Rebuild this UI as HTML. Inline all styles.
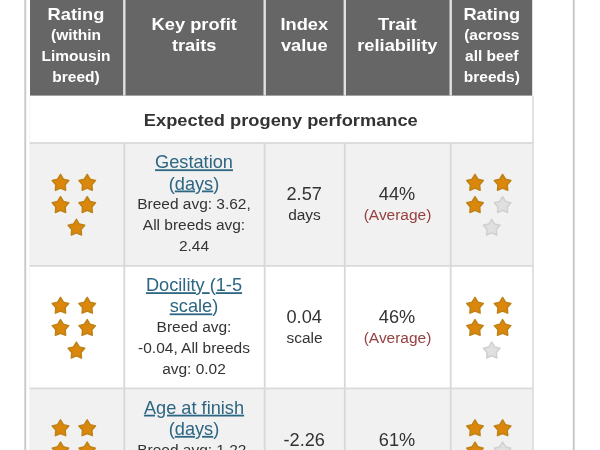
<!DOCTYPE html>
<html lang="en"><head><meta charset="utf-8"><title>Key profit traits</title>
<style>
html,body{margin:0;padding:0;background:#fff}
body{width:600px;height:450px;overflow:hidden;position:relative}
svg{display:block;position:absolute;left:-10px;top:-10px;filter:blur(0.4px)}
text{font-family:"Liberation Sans",Arial,Helvetica,sans-serif;text-anchor:middle;white-space:pre}
polygon{stroke-width:1.5px;stroke-linejoin:round}
.so{fill:#da870b;stroke:#bf8216}
.sg{fill:#e0e0e0;stroke:#d0d0d0}
tspan.u{text-decoration:underline;text-decoration-thickness:1.1px;text-underline-offset:2.7px}
</style></head><body>
<svg width="620" height="470" viewBox="-10 -10 620 470">
<rect x="30.00" y="143.00" width="502.30" height="122.90" fill="#f1f1f1"/>
<rect x="30.00" y="388.40" width="502.30" height="71.60" fill="#f1f1f1"/>
<rect x="30.00" y="-10.00" width="502.20" height="105.60" fill="#666666"/>
<rect x="123.10" y="-10.00" width="2.40" height="105.60" fill="#e1e1e3"/>
<rect x="263.50" y="-10.00" width="2.40" height="105.60" fill="#e1e1e3"/>
<rect x="343.60" y="-10.00" width="2.40" height="105.60" fill="#e1e1e3"/>
<rect x="449.50" y="-10.00" width="2.40" height="105.60" fill="#e1e1e3"/>
<rect x="123.40" y="143.00" width="1.80" height="317.00" fill="#d7d8dc"/>
<rect x="263.80" y="143.00" width="1.80" height="317.00" fill="#d7d8dc"/>
<rect x="343.90" y="143.00" width="1.80" height="317.00" fill="#d7d8dc"/>
<rect x="449.80" y="143.00" width="1.80" height="317.00" fill="#d7d8dc"/>
<rect x="29.50" y="95.60" width="0.70" height="364.40" fill="#ededef"/>
<rect x="532.10" y="95.60" width="1.70" height="364.40" fill="#dcdcde"/>
<rect x="29.60" y="142.15" width="503.40" height="1.70" fill="#d9d9dc"/>
<rect x="29.60" y="265.05" width="503.40" height="1.70" fill="#d9d9dc"/>
<rect x="29.60" y="387.55" width="503.40" height="1.70" fill="#d9d9dc"/>
<rect x="24.30" y="-10.00" width="1.90" height="470.00" fill="#c9c9c9"/>
<rect x="572.80" y="-10.00" width="1.90" height="470.00" fill="#c6c6c6"/>
<text transform="translate(76.00 19.80) scale(1.015 0.96)" font-size="18" font-weight="bold" fill="#ffffff">Rating</text>
<text transform="translate(76.00 40.10) scale(1.015 1.0)" font-size="15.3" font-weight="bold" fill="#ffffff">(within</text>
<text transform="translate(76.00 61.00) scale(1.015 1.0)" font-size="15.3" font-weight="bold" fill="#ffffff">Limousin</text>
<text transform="translate(76.00 82.00) scale(1.015 1.0)" font-size="15.3" font-weight="bold" fill="#ffffff">breed)</text>
<text transform="translate(194.20 30.20) scale(1.015 0.96)" font-size="18" font-weight="bold" fill="#ffffff">Key profit</text>
<text transform="translate(194.20 51.30) scale(1.015 0.96)" font-size="18" font-weight="bold" fill="#ffffff">traits</text>
<text transform="translate(304.30 30.20) scale(1.015 0.96)" font-size="18" font-weight="bold" fill="#ffffff">Index</text>
<text transform="translate(304.30 51.30) scale(1.015 0.96)" font-size="18" font-weight="bold" fill="#ffffff">value</text>
<text transform="translate(397.30 30.20) scale(1.015 0.96)" font-size="18" font-weight="bold" fill="#ffffff">Trait</text>
<text transform="translate(397.30 51.00) scale(1.015 0.96)" font-size="18" font-weight="bold" fill="#ffffff">reliability</text>
<text transform="translate(491.80 19.80) scale(1.015 0.96)" font-size="18" font-weight="bold" fill="#ffffff">Rating</text>
<text transform="translate(491.80 40.20) scale(1.015 1.0)" font-size="15.3" font-weight="bold" fill="#ffffff">(across</text>
<text transform="translate(491.80 61.10) scale(1.015 1.0)" font-size="15.3" font-weight="bold" fill="#ffffff">all beef</text>
<text transform="translate(491.80 82.00) scale(1.015 1.0)" font-size="15.3" font-weight="bold" fill="#ffffff">breeds)</text>
<text transform="translate(280.80 125.70) scale(1.015 0.96)" font-size="18" font-weight="bold" fill="#333">Expected progeny performance</text>
<text transform="translate(194.00 168.30) scale(1.012 1.0)" font-size="18" fill="#2d6682"><tspan class="u">Gestation</tspan></text>
<text transform="translate(194.00 189.50) scale(1.012 1.0)" font-size="18" fill="#2d6682">(<tspan class="u">days</tspan>)</text>
<text transform="translate(194.00 209.40) scale(1.012 1.0)" font-size="15.3" fill="#333">Breed avg: 3.62,</text>
<text transform="translate(194.00 230.30) scale(1.012 1.0)" font-size="15.3" fill="#333">All breeds avg:</text>
<text transform="translate(194.00 251.20) scale(1.012 1.0)" font-size="15.3" fill="#333">2.44</text>
<text transform="translate(304.20 200.00) scale(1.012 1.0)" font-size="18" fill="#333">2.57</text>
<text transform="translate(304.50 219.70) scale(1.012 1.0)" font-size="15.3" fill="#333">days</text>
<text transform="translate(397.00 200.00) scale(1.012 1.0)" font-size="18" fill="#333">44%</text>
<text transform="translate(397.50 219.60) scale(1.012 1.0)" font-size="15.3" fill="#964040">(Average)</text>
<polygon class="so" transform="translate(60.50 183.20)" points="0.00,-8.70 2.88,-3.96 8.27,-2.69 4.66,1.51 5.11,7.04 0.00,4.90 -5.11,7.04 -4.66,1.51 -8.27,-2.69 -2.88,-3.96"/>
<polygon class="so" transform="translate(87.20 183.20)" points="0.00,-8.70 2.88,-3.96 8.27,-2.69 4.66,1.51 5.11,7.04 0.00,4.90 -5.11,7.04 -4.66,1.51 -8.27,-2.69 -2.88,-3.96"/>
<polygon class="so" transform="translate(60.50 205.40)" points="0.00,-8.70 2.88,-3.96 8.27,-2.69 4.66,1.51 5.11,7.04 0.00,4.90 -5.11,7.04 -4.66,1.51 -8.27,-2.69 -2.88,-3.96"/>
<polygon class="so" transform="translate(87.20 205.40)" points="0.00,-8.70 2.88,-3.96 8.27,-2.69 4.66,1.51 5.11,7.04 0.00,4.90 -5.11,7.04 -4.66,1.51 -8.27,-2.69 -2.88,-3.96"/>
<polygon class="so" transform="translate(76.40 228.00)" points="0.00,-8.70 2.88,-3.96 8.27,-2.69 4.66,1.51 5.11,7.04 0.00,4.90 -5.11,7.04 -4.66,1.51 -8.27,-2.69 -2.88,-3.96"/>
<polygon class="so" transform="translate(475.00 183.20)" points="0.00,-8.70 2.88,-3.96 8.27,-2.69 4.66,1.51 5.11,7.04 0.00,4.90 -5.11,7.04 -4.66,1.51 -8.27,-2.69 -2.88,-3.96"/>
<polygon class="so" transform="translate(502.60 183.20)" points="0.00,-8.70 2.88,-3.96 8.27,-2.69 4.66,1.51 5.11,7.04 0.00,4.90 -5.11,7.04 -4.66,1.51 -8.27,-2.69 -2.88,-3.96"/>
<polygon class="so" transform="translate(475.00 205.40)" points="0.00,-8.70 2.88,-3.96 8.27,-2.69 4.66,1.51 5.11,7.04 0.00,4.90 -5.11,7.04 -4.66,1.51 -8.27,-2.69 -2.88,-3.96"/>
<polygon class="sg" transform="translate(502.60 205.40)" points="0.00,-8.70 2.88,-3.96 8.27,-2.69 4.66,1.51 5.11,7.04 0.00,4.90 -5.11,7.04 -4.66,1.51 -8.27,-2.69 -2.88,-3.96"/>
<polygon class="sg" transform="translate(491.70 228.00)" points="0.00,-8.70 2.88,-3.96 8.27,-2.69 4.66,1.51 5.11,7.04 0.00,4.90 -5.11,7.04 -4.66,1.51 -8.27,-2.69 -2.88,-3.96"/>
<text transform="translate(194.00 291.20) scale(1.012 1.0)" font-size="18" fill="#2d6682"><tspan class="u">Docility </tspan>(<tspan class="u">1-5</tspan></text>
<text transform="translate(194.00 312.40) scale(1.012 1.0)" font-size="18" fill="#2d6682"><tspan class="u">scale</tspan>)</text>
<text transform="translate(194.00 332.30) scale(1.012 1.0)" font-size="15.3" fill="#333">Breed avg:</text>
<text transform="translate(194.00 353.20) scale(1.012 1.0)" font-size="15.3" fill="#333">-0.04, All breeds</text>
<text transform="translate(194.00 374.10) scale(1.012 1.0)" font-size="15.3" fill="#333">avg: 0.02</text>
<text transform="translate(304.20 322.90) scale(1.012 1.0)" font-size="18" fill="#333">0.04</text>
<text transform="translate(304.50 342.60) scale(1.012 1.0)" font-size="15.3" fill="#333">scale</text>
<text transform="translate(397.00 322.90) scale(1.012 1.0)" font-size="18" fill="#333">46%</text>
<text transform="translate(397.50 342.50) scale(1.012 1.0)" font-size="15.3" fill="#964040">(Average)</text>
<polygon class="so" transform="translate(60.50 306.10)" points="0.00,-8.70 2.88,-3.96 8.27,-2.69 4.66,1.51 5.11,7.04 0.00,4.90 -5.11,7.04 -4.66,1.51 -8.27,-2.69 -2.88,-3.96"/>
<polygon class="so" transform="translate(87.20 306.10)" points="0.00,-8.70 2.88,-3.96 8.27,-2.69 4.66,1.51 5.11,7.04 0.00,4.90 -5.11,7.04 -4.66,1.51 -8.27,-2.69 -2.88,-3.96"/>
<polygon class="so" transform="translate(60.50 328.30)" points="0.00,-8.70 2.88,-3.96 8.27,-2.69 4.66,1.51 5.11,7.04 0.00,4.90 -5.11,7.04 -4.66,1.51 -8.27,-2.69 -2.88,-3.96"/>
<polygon class="so" transform="translate(87.20 328.30)" points="0.00,-8.70 2.88,-3.96 8.27,-2.69 4.66,1.51 5.11,7.04 0.00,4.90 -5.11,7.04 -4.66,1.51 -8.27,-2.69 -2.88,-3.96"/>
<polygon class="so" transform="translate(76.40 350.90)" points="0.00,-8.70 2.88,-3.96 8.27,-2.69 4.66,1.51 5.11,7.04 0.00,4.90 -5.11,7.04 -4.66,1.51 -8.27,-2.69 -2.88,-3.96"/>
<polygon class="so" transform="translate(475.00 306.10)" points="0.00,-8.70 2.88,-3.96 8.27,-2.69 4.66,1.51 5.11,7.04 0.00,4.90 -5.11,7.04 -4.66,1.51 -8.27,-2.69 -2.88,-3.96"/>
<polygon class="so" transform="translate(502.60 306.10)" points="0.00,-8.70 2.88,-3.96 8.27,-2.69 4.66,1.51 5.11,7.04 0.00,4.90 -5.11,7.04 -4.66,1.51 -8.27,-2.69 -2.88,-3.96"/>
<polygon class="so" transform="translate(475.00 328.30)" points="0.00,-8.70 2.88,-3.96 8.27,-2.69 4.66,1.51 5.11,7.04 0.00,4.90 -5.11,7.04 -4.66,1.51 -8.27,-2.69 -2.88,-3.96"/>
<polygon class="so" transform="translate(502.60 328.30)" points="0.00,-8.70 2.88,-3.96 8.27,-2.69 4.66,1.51 5.11,7.04 0.00,4.90 -5.11,7.04 -4.66,1.51 -8.27,-2.69 -2.88,-3.96"/>
<polygon class="sg" transform="translate(491.70 350.90)" points="0.00,-8.70 2.88,-3.96 8.27,-2.69 4.66,1.51 5.11,7.04 0.00,4.90 -5.11,7.04 -4.66,1.51 -8.27,-2.69 -2.88,-3.96"/>
<text transform="translate(194.00 413.70) scale(1.012 1.0)" font-size="18" fill="#2d6682"><tspan class="u">Age at finish</tspan></text>
<text transform="translate(194.00 434.90) scale(1.012 1.0)" font-size="18" fill="#2d6682">(<tspan class="u">days</tspan>)</text>
<text transform="translate(194.00 454.80) scale(1.012 1.0)" font-size="15.3" fill="#333">Breed avg: 1.22,</text>
<text transform="translate(194.00 475.70) scale(1.012 1.0)" font-size="15.3" fill="#333">All breeds avg:</text>
<text transform="translate(194.00 496.60) scale(1.012 1.0)" font-size="15.3" fill="#333">-0.54</text>
<text transform="translate(304.20 446.10) scale(1.012 1.0)" font-size="18" fill="#333">-2.26</text>
<text transform="translate(304.50 465.10) scale(1.012 1.0)" font-size="15.3" fill="#333">days</text>
<text transform="translate(397.00 446.10) scale(1.012 1.0)" font-size="18" fill="#333">61%</text>
<text transform="translate(397.50 465.00) scale(1.012 1.0)" font-size="15.3" fill="#964040">(Average)</text>
<polygon class="so" transform="translate(60.50 428.60)" points="0.00,-8.70 2.88,-3.96 8.27,-2.69 4.66,1.51 5.11,7.04 0.00,4.90 -5.11,7.04 -4.66,1.51 -8.27,-2.69 -2.88,-3.96"/>
<polygon class="so" transform="translate(87.20 428.60)" points="0.00,-8.70 2.88,-3.96 8.27,-2.69 4.66,1.51 5.11,7.04 0.00,4.90 -5.11,7.04 -4.66,1.51 -8.27,-2.69 -2.88,-3.96"/>
<polygon class="so" transform="translate(60.50 450.80)" points="0.00,-8.70 2.88,-3.96 8.27,-2.69 4.66,1.51 5.11,7.04 0.00,4.90 -5.11,7.04 -4.66,1.51 -8.27,-2.69 -2.88,-3.96"/>
<polygon class="so" transform="translate(87.20 450.80)" points="0.00,-8.70 2.88,-3.96 8.27,-2.69 4.66,1.51 5.11,7.04 0.00,4.90 -5.11,7.04 -4.66,1.51 -8.27,-2.69 -2.88,-3.96"/>
<polygon class="so" transform="translate(76.40 473.40)" points="0.00,-8.70 2.88,-3.96 8.27,-2.69 4.66,1.51 5.11,7.04 0.00,4.90 -5.11,7.04 -4.66,1.51 -8.27,-2.69 -2.88,-3.96"/>
<polygon class="so" transform="translate(475.00 428.60)" points="0.00,-8.70 2.88,-3.96 8.27,-2.69 4.66,1.51 5.11,7.04 0.00,4.90 -5.11,7.04 -4.66,1.51 -8.27,-2.69 -2.88,-3.96"/>
<polygon class="so" transform="translate(502.60 428.60)" points="0.00,-8.70 2.88,-3.96 8.27,-2.69 4.66,1.51 5.11,7.04 0.00,4.90 -5.11,7.04 -4.66,1.51 -8.27,-2.69 -2.88,-3.96"/>
<polygon class="so" transform="translate(475.00 450.80)" points="0.00,-8.70 2.88,-3.96 8.27,-2.69 4.66,1.51 5.11,7.04 0.00,4.90 -5.11,7.04 -4.66,1.51 -8.27,-2.69 -2.88,-3.96"/>
<polygon class="sg" transform="translate(502.60 450.80)" points="0.00,-8.70 2.88,-3.96 8.27,-2.69 4.66,1.51 5.11,7.04 0.00,4.90 -5.11,7.04 -4.66,1.51 -8.27,-2.69 -2.88,-3.96"/>
<polygon class="sg" transform="translate(491.70 473.40)" points="0.00,-8.70 2.88,-3.96 8.27,-2.69 4.66,1.51 5.11,7.04 0.00,4.90 -5.11,7.04 -4.66,1.51 -8.27,-2.69 -2.88,-3.96"/>
</svg>
</body></html>
